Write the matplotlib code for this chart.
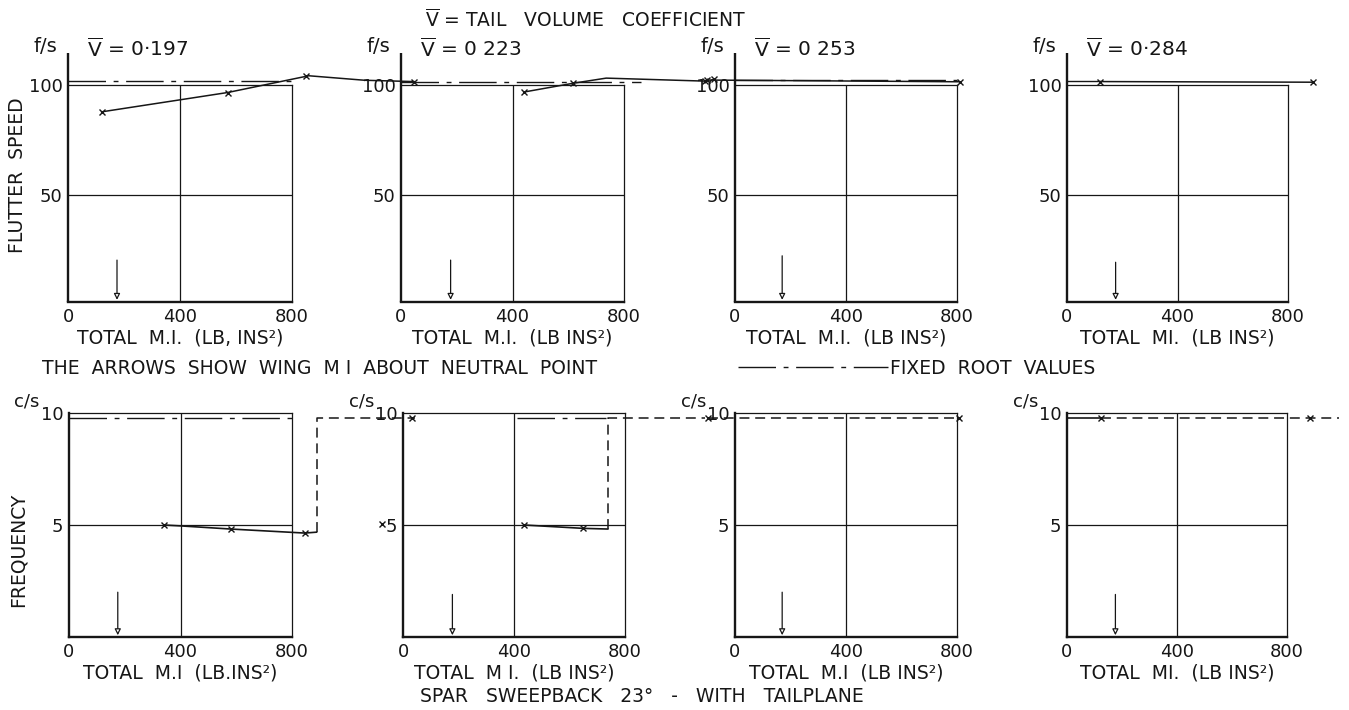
import matplotlib
matplotlib.use("Agg")
import matplotlib.pyplot as plt

plt.rcParams['font.family'] = ['DejaVu Sans']
plt.rcParams['mathtext.fontset'] = 'dejavusans'

# ---------------- data ----------------
tail_volume = ["0·197", "0 223", "0 253", "0·284"]
mi_ticks = [0, 400, 800]
flutter_ticks = [50, 101]
flutter_ticklabels = ["50", "100"]
freq_ticks = [5, 10]
freq_ticklabels = ["5", "10"]
xlabels_top = ["TOTAL  M.I.  (LB, INS²)", "TOTAL  M.I.  (LB INS²)",
               "TOTAL  M.I.  (LB INS²)", "TOTAL  MI.  (LB INS²)"]
xlabels_bot = ["TOTAL  M.I  (LB.INS²)", "TOTAL  M I.  (LB INS²)",
               "TOTAL  M.I  (LB INS²)", "TOTAL  MI.  (LB INS²)"]

# wing M.I. about neutral point (arrows)
wing_mi = [175, 178, 170, 176]
arrow_top_flutter = [19.5, 19.5, 21.5, 18.5]
arrow_top_freq = [2.0, 1.9, 2.0, 1.9]

# flutter speed (f/s) vs total M.I.
flutter_fixed = [102.8, 102.4, 103.2, 103.0]
flutter_fixed_end = [800, 860, 800, 121]
flutter_line_mi = [[120, 570, 860, 1060, 1235], [440, 617, 736, 1092], [-100, 812], [121, 891]]
flutter_line_v = [[88.5, 97.5, 105.3, 103.2, 102.6], [97.7, 101.8, 104.2, 102.8], [103.3, 102.5], [102.6, 102.3]]
flutter_pts_mi = [[120, 570, 850, 1235], [440, 617, 1092, 1124], [-100, 812], [121, 891]]
flutter_pts_v = [[88.5, 97.5, 105.1, 102.6], [97.7, 101.8, 102.8, 103.8], [103.3, 102.5], [102.6, 102.3]]

# frequency (c/s) vs total M.I.
freq_fixed = [9.79, 9.79, None, None]
freq_fixed_span = [[0, 800], [412, 732], None, None]
freq_solid_mi = [[340, 400, 580, 846, 888], [436, 649, 738], [], [0, 125]]
freq_solid_v = [[5.0, 4.96, 4.82, 4.64, 4.68], [5.0, 4.85, 4.82], [], [9.78, 9.78]]
freq_dash_mi = [[888, 888, 1240], [738, 738, 1090], [-97, 806], [125, 884, 990]]
freq_dash_v = [[4.68, 9.79, 9.79], [4.82, 9.79, 9.79], [9.78, 9.78], [9.78, 9.78, 9.78]]
freq_pts_mi = [[340, 580, 846], [-76, 32, 436, 649], [-97, 806], [125, 884]]
freq_pts_v = [[5.0, 4.82, 4.64], [5.04, 9.79, 5.0, 4.85], [9.78, 9.78], [9.78, 9.78]]

# ---------------- layout ----------------
W, H = 1349, 710
fig = plt.figure(figsize=(W / 100, H / 100), dpi=100)
fig.patch.set_facecolor('white')

top_left = [68, 401, 735, 1067]
top_right = [292, 624, 957, 1288]
bot_left = [69, 403, 735, 1067]
bot_right = [292, 625, 957, 1287]
TOP_Y0, TOP_Y100 = 302, 85
BOT_Y0, BOT_Y10 = 637, 413

INK = '#161616'
THIN = 0.9
THICK = 1.7
FS = 13.5
DASHDOT = (27, 5.5, 3.5, 5.5)
DASHED = (6.5, 3.8)


def make_ax(l, r, yb, yt):
    return fig.add_axes([l / W, 1 - yb / H, (r - l) / W, (yb - yt) / H])


def style_box(ax, ymax, ytpos, ytlab, xlabel):
    ax.set_xlim(0, 800)
    ax.set_ylim(0, ymax)
    ax.set_facecolor('none')
    for s in ['top', 'right']:
        ax.spines[s].set_linewidth(THIN)
    for s in ['bottom', 'left']:
        ax.spines[s].set_linewidth(THICK)
    for s in ax.spines.values():
        s.set_color(INK)
    ax.axvline(400, color=INK, lw=THIN)
    ax.axhline(ymax / 2, color=INK, lw=THIN)
    ax.set_xticks(mi_ticks)
    ax.set_xticklabels([str(t) for t in mi_ticks])
    ax.set_yticks(ytpos)
    ax.set_yticklabels(ytlab)
    ax.tick_params(length=0, labelsize=13, colors=INK, pad=4)
    ax.set_xlabel(xlabel, fontsize=FS, color=INK, labelpad=2)


def draw_arrow(ax, x, top, bottom):
    ax.annotate('', xy=(x, bottom), xytext=(x, top),
                arrowprops=dict(arrowstyle='-|>', lw=0.9, color=INK, fc='white',
                                mutation_scale=9, shrinkA=0, shrinkB=0))


fixed_handle = None
for i in range(4):
    # ---- top row: flutter speed ----
    ax = make_ax(top_left[i], top_right[i], TOP_Y0, TOP_Y100)
    style_box(ax, 100, flutter_ticks, flutter_ticklabels, xlabels_top[i])
    ax.spines['left'].set_visible(False)
    ax.plot([0, 0], [0, 116], color=INK, lw=THICK, clip_on=False, solid_capstyle='butt')
    fl, = ax.plot([0, flutter_fixed_end[i]], [flutter_fixed[i]] * 2, color=INK, lw=1.0,
                  dashes=DASHDOT, clip_on=False)
    if i == 0:
        fixed_handle = fl
    ax.plot(flutter_line_mi[i], flutter_line_v[i], color=INK, lw=1.1, clip_on=False)
    ax.plot(flutter_pts_mi[i], flutter_pts_v[i], ls='none', marker='x', ms=4.5, mew=1.0,
            color=INK, clip_on=False)
    draw_arrow(ax, wing_mi[i], arrow_top_flutter[i], 1.0)
    ax.text(-82, 119, 'f/s', ha='center', va='center', fontsize=14, color=INK)
    ax.text(68, 118, r'$\overline{\mathrm{V}}$ = ' + tail_volume[i], ha='left', va='center',
            fontsize=14.5, color=INK)

    # ---- bottom row: frequency ----
    bx = make_ax(bot_left[i], bot_right[i], BOT_Y0, BOT_Y10)
    style_box(bx, 10, freq_ticks, freq_ticklabels, xlabels_bot[i])
    if freq_fixed[i] is not None:
        bx.plot(freq_fixed_span[i], [freq_fixed[i]] * 2, color=INK, lw=1.0, dashes=DASHDOT)
    if freq_solid_mi[i]:
        bx.plot(freq_solid_mi[i], freq_solid_v[i], color=INK, lw=1.2, clip_on=False)
    bx.plot(freq_dash_mi[i], freq_dash_v[i], color=INK, lw=1.1, dashes=DASHED, clip_on=False)
    bx.plot(freq_pts_mi[i], freq_pts_v[i], ls='none', marker='x', ms=4.5, mew=1.0,
            color=INK, clip_on=False)
    draw_arrow(bx, wing_mi[i], arrow_top_freq[i], 0.08)
    bx.text(-150, 10.5, 'c/s', ha='center', va='center', fontsize=13, color=INK)

# ---------------- annotations ----------------
fig.text(425 / W, 1 - 20 / H, r'$\overline{\mathrm{V}}$ = TAIL   VOLUME   COEFFICIENT',
         ha='left', va='center', fontsize=FS, color=INK)
fig.text(18 / W, 1 - 175 / H, 'FLUTTER  SPEED', rotation=90, ha='center', va='center',
         fontsize=FS, color=INK)
fig.text(18 / W, 1 - 550 / H, 'FREQUENCY', rotation=90, ha='center', va='center',
         fontsize=FS, color=INK)
fig.text(42 / W, 1 - 368 / H, 'THE  ARROWS  SHOW  WING  M I  ABOUT  NEUTRAL  POINT',
         ha='left', va='center', fontsize=FS, color=INK)
fig.text(420 / W, 1 - 697 / H, 'SPAR   SWEEPBACK   23°   -   WITH   TAILPLANE',
         ha='left', va='center', fontsize=FS, color=INK)
fig.legend(handles=[fixed_handle], labels=['FIXED  ROOT  VALUES'], loc='center left',
           bbox_to_anchor=(738 / W, 1 - 368 / H), frameon=False, handlelength=8.0,
           handletextpad=0.1, borderpad=0, borderaxespad=0, fontsize=FS,
           labelcolor=INK)

fig.savefig('out.png', dpi=100, facecolor='white')
